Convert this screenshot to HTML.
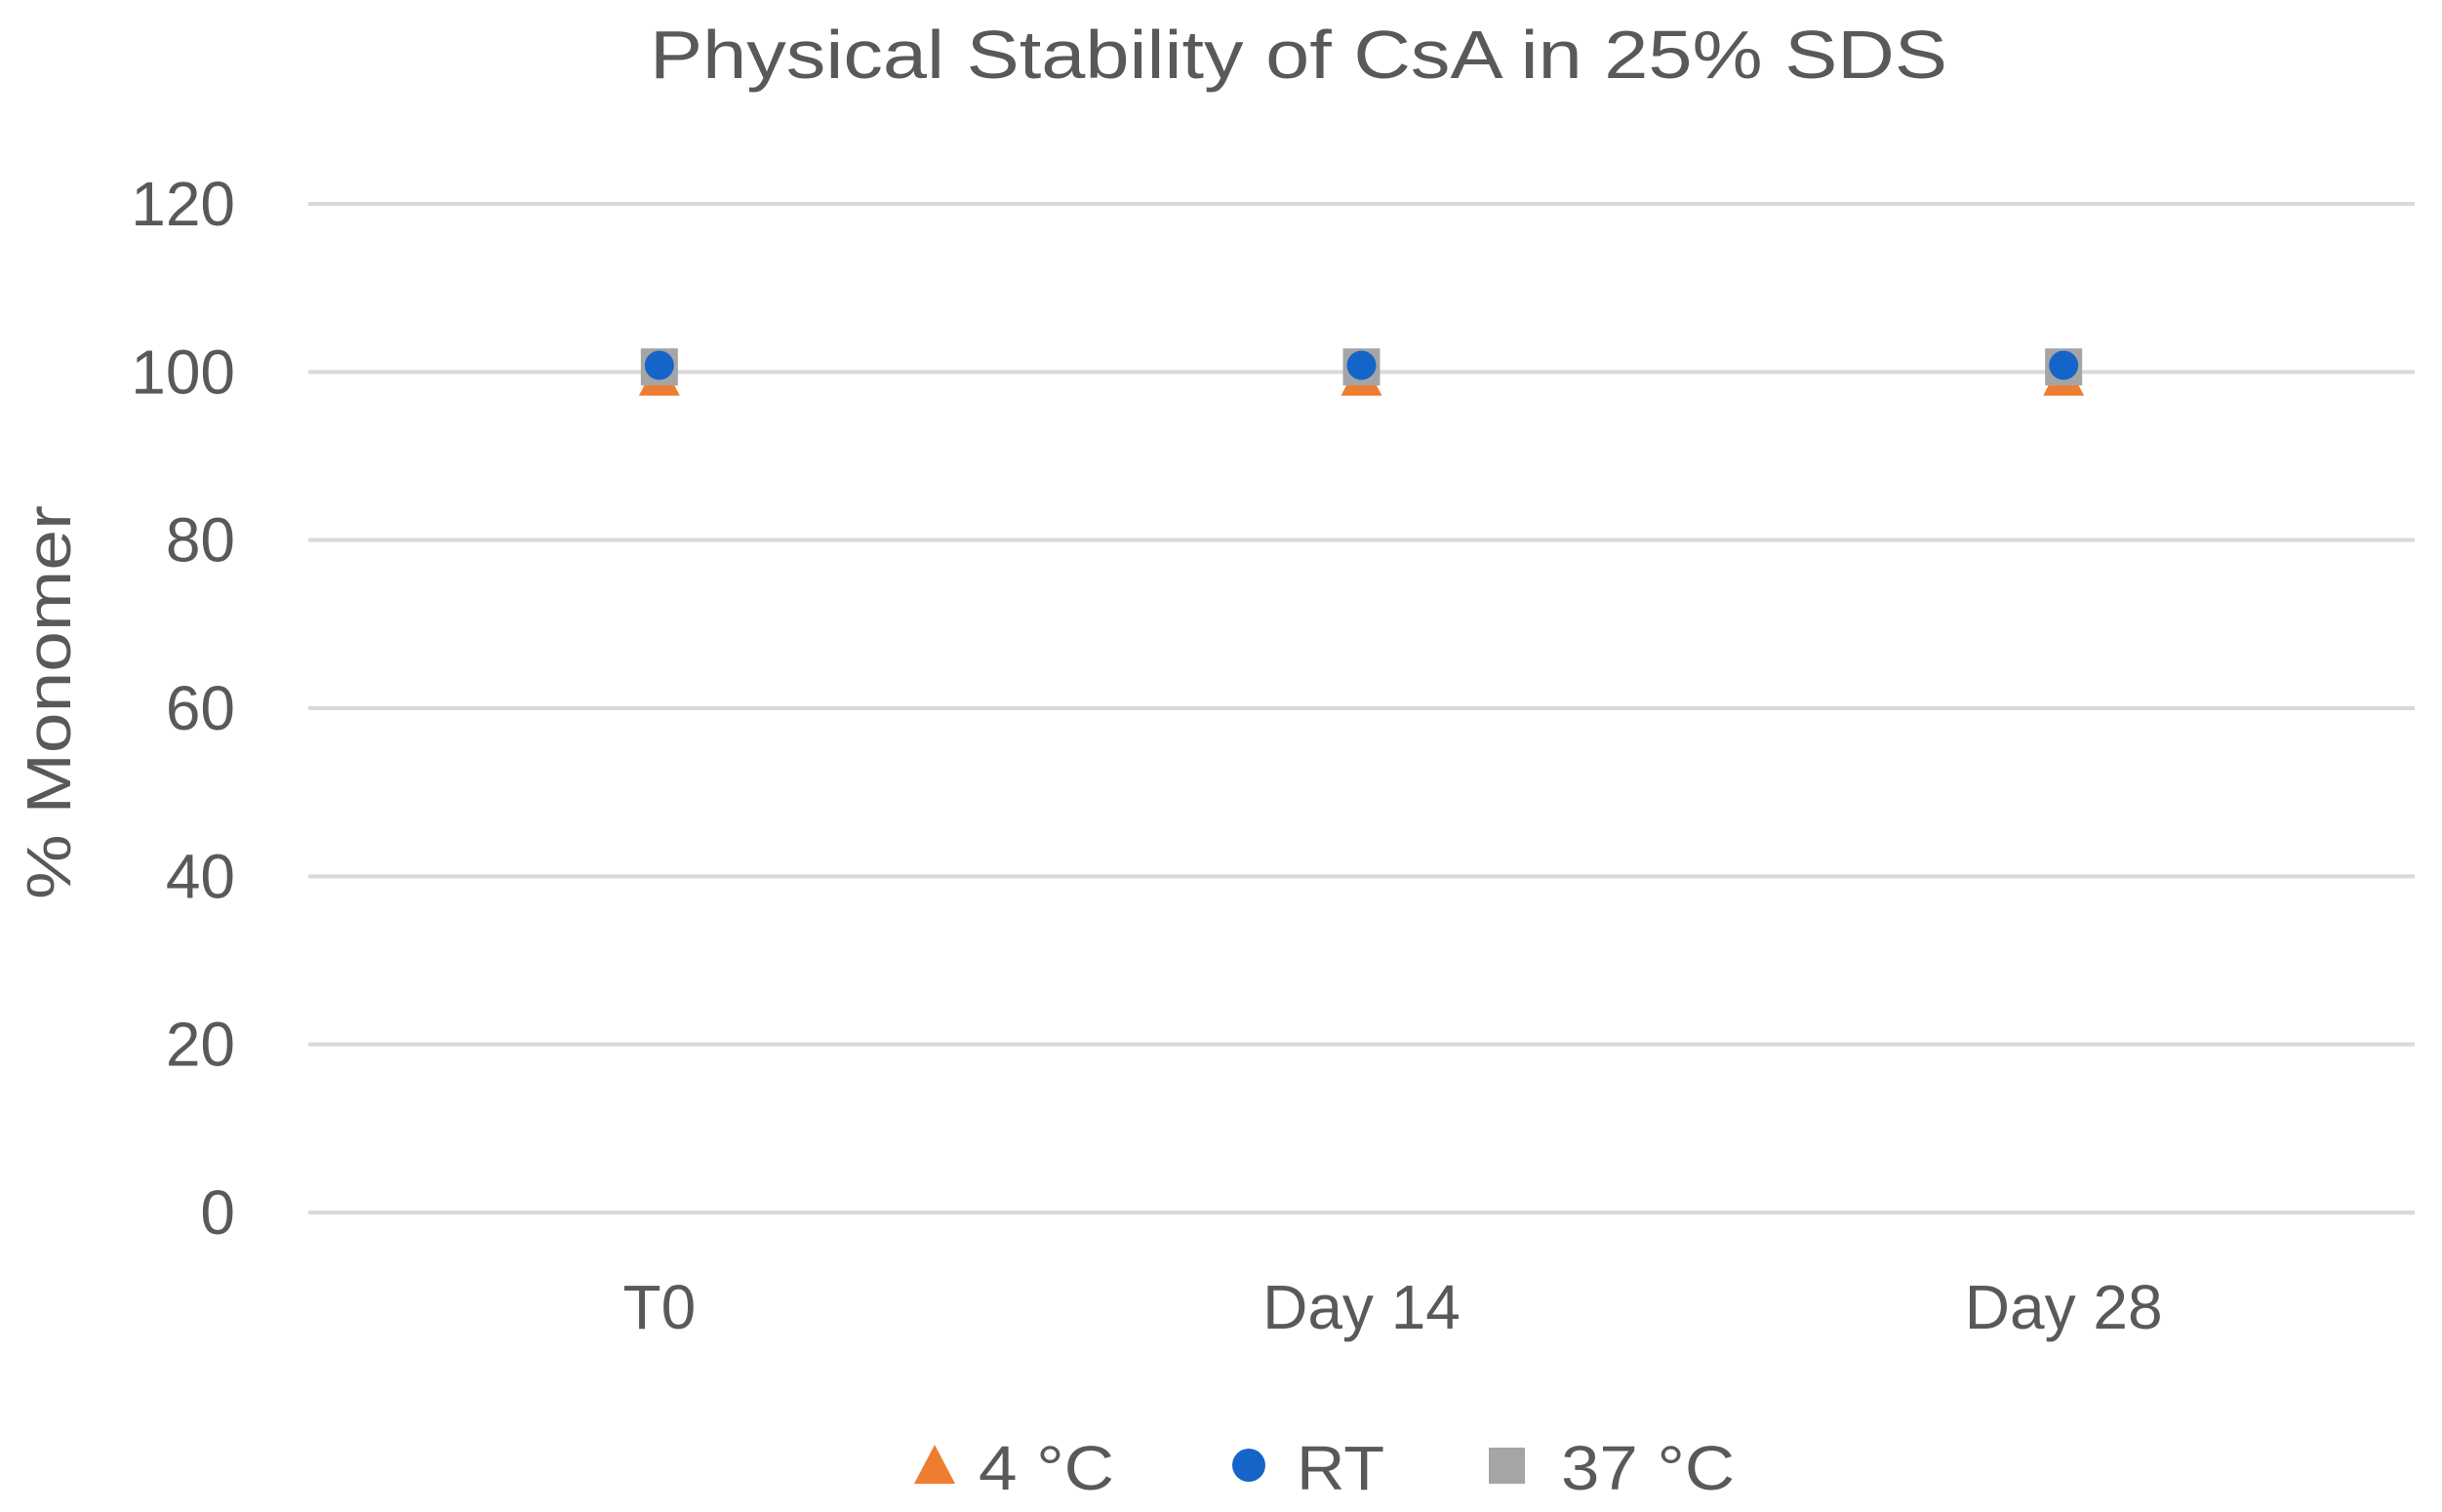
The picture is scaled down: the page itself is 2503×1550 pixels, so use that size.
<!DOCTYPE html>
<html><head><meta charset="utf-8"><style>
html,body{margin:0;padding:0;background:#fff;}
svg{display:block;font-family:"Liberation Sans",sans-serif;}
</style></head><body>
<svg id="chart" width="2503" height="1550" viewBox="0 0 2503 1550" xmlns="http://www.w3.org/2000/svg">
<rect width="2503" height="1550" fill="#fff"/>
<text x="1331" y="80" text-anchor="middle" font-size="70" fill="#595959" textLength="1330" lengthAdjust="spacingAndGlyphs">Physical Stability of CsA in 25% SDS</text>
<text transform="translate(72,720) rotate(-90)" text-anchor="middle" font-size="64" fill="#595959" textLength="404" lengthAdjust="spacingAndGlyphs">% Monomer</text>
<g id="grid"></g>
<g id="yticks"></g>
<g id="xticks"></g>
<g id="marks"></g>
<g>
  <g>
    <polygon points="958,1481 979,1521 937,1521" fill="#ED7D31"/>
    <text x="1003" y="1527" font-size="64" fill="#595959" textLength="139" lengthAdjust="spacingAndGlyphs">4 °C</text>
  </g>
  <g>
    <circle cx="1280" cy="1502" r="17" fill="#1565C8"/>
    <text x="1329" y="1527" font-size="64" fill="#595959" textLength="90" lengthAdjust="spacingAndGlyphs">RT</text>
  </g>
  <g>
    <rect x="1526" y="1484" width="37" height="37" fill="#A5A5A5"/>
    <text x="1600" y="1527" font-size="64" fill="#595959" textLength="178" lengthAdjust="spacingAndGlyphs">37 °C</text>
  </g>
</g>
</svg>
<script>
const categories = ["T0", "Day 14", "Day 28"];
const series4C = [99.5, 99.5, 99.5];
const seriesRT = [100.8, 100.8, 100.8];
const series37C = [100.6, 100.6, 100.6];
const yTicks = [0, 20, 40, 60, 80, 100, 120];

const NS = "http://www.w3.org/2000/svg";
const plotL = 316, plotR = 2475, yTop = 209, yBot = 1243, yMax = 120;
function yScale(v){ return yBot - (v / yMax) * (yBot - yTop); }
function xScale(i){ const w = (plotR - plotL) / categories.length; return plotL + w * (i + 0.5); }
function mk(tag, attrs, parent){ const e = document.createElementNS(NS, tag); for (const k in attrs) e.setAttribute(k, attrs[k]); parent.appendChild(e); return e; }

const grid = document.getElementById('grid');
const yt = document.getElementById('yticks');
yTicks.forEach(v => {
  const l = mk('line', {x1: plotL, x2: plotR, y1: yScale(v), y2: yScale(v), stroke: '#d9d9d9', 'stroke-width': 4}, grid);
  
  
  const t = mk('text', {x: 241, y: yScale(v) + 22, 'text-anchor': 'end', 'font-size': 64, fill: '#595959'}, yt);
  t.textContent = v;
  
  
});
const xt = document.getElementById('xticks');
categories.forEach((c, i) => {
  const t = mk('text', {x: xScale(i), y: 1362, 'text-anchor': 'middle', 'font-size': 64, fill: '#595959'}, xt);
  t.textContent = c;
  
  
});
const marks = document.getElementById('marks');
categories.forEach((c, i) => {
  const x = xScale(i);
  let y = yScale(series4C[i]);
  const tri = mk('polygon', {points: `${x},${y-20} ${x+21},${y+20} ${x-21},${y+20}`, fill: '#ED7D31'}, marks);
  
  
  y = yScale(series37C[i]);
  const sq = mk('rect', {x: x - 19, y: y - 19, width: 38, height: 38, fill: '#A5A5A5'}, marks);
  
  
  y = yScale(seriesRT[i]);
  const ci = mk('circle', {cx: x, cy: y, r: 15, fill: '#1565C8'}, marks);
  
  
});
</script>
</body></html>
